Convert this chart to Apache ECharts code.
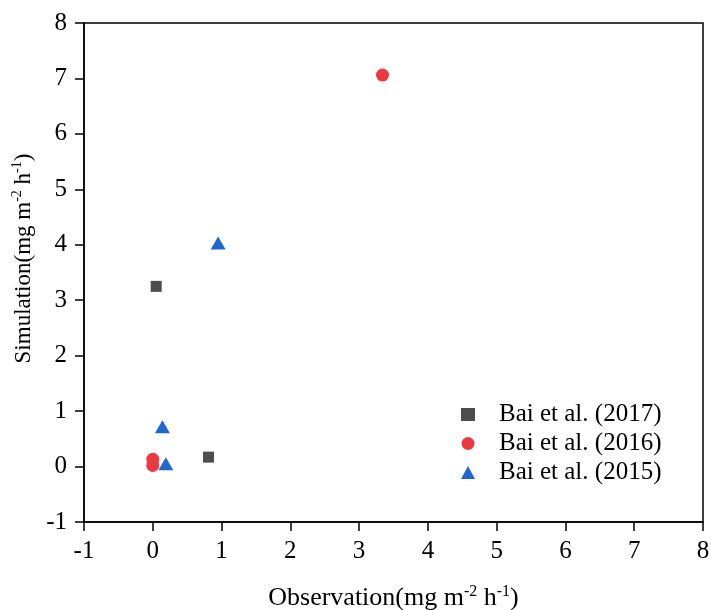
<!DOCTYPE html>
<html>
<head>
<meta charset="utf-8">
<script src="https://cdn.jsdelivr.net/npm/echarts@6/dist/echarts.min.js"></script>
<style>html,body{margin:0;padding:0;background:#fff}#c{width:711px;height:610px}</style>
</head>
<body>
<div id="c"></div>
<script>
const seriesNames = ['Bai et al. (2017)', 'Bai et al. (2016)', 'Bai et al. (2015)'];
const bai2017 = [[0.05, 3.25], [0.81, 0.17]];
const bai2016 = [[3.34, 7.06], [0.0, 0.13], [0.0, 0.02]];
const bai2015 = [[0.95, 4.03], [0.14, 0.72], [0.19, 0.05]];
const xTicks = [-1, 0, 1, 2, 3, 4, 5, 6, 7, 8];
const yTicks = [-1, 0, 1, 2, 3, 4, 5, 6, 7, 8];

const font = '"Liberation Serif", "Times New Roman", serif';
const chart = echarts.init(document.getElementById('c'));
const axisCommon = {
  type: 'value', min: -1, max: 8, interval: 1,
  axisLine: { show: true, onZero: false, lineStyle: { color: '#000', width: 1.5 } },
  axisTick: { show: true, inside: false, length: 9, lineStyle: { color: '#000', width: 1.5 } },
  axisLabel: { color: '#000', fontFamily: font, fontSize: 25 },
  splitLine: { show: false }
};
function rich(size) {
  return {
    n: { fontFamily: font, fontSize: size, color: '#000' },
    s: { fontFamily: font, fontSize: Math.round(size * 0.62), color: '#000', verticalAlign: 'top', padding: [0, 0, 12, 0] }
  };
}
chart.setOption({
  animation: false,
  grid: { left: 84, right: 8, top: 23, bottom: 88, containLabel: false, outerBoundsMode: 'none', show: true, borderColor: '#000', borderWidth: 1.5 },
  xAxis: Object.assign({}, axisCommon, {
    axisLabel: Object.assign({}, axisCommon.axisLabel, { margin: 17, formatter: v => xTicks.includes(v) ? String(v) : '' }),
    name: '{n|Observation(mg m}{s|-2}{n| h}{s|-1}{n|)}',
    nameLocation: 'middle', nameGap: 62,
    nameTextStyle: { rich: rich(26) }
  }),
  yAxis: Object.assign({}, axisCommon, {
    axisLabel: Object.assign({}, axisCommon.axisLabel, { margin: 17, formatter: v => yTicks.includes(v) ? String(v) : '' }),
    name: '{n|Simulation(mg m}{s|-2}{n| h}{s|-1}{n|)}',
    nameLocation: 'middle', nameGap: 42, nameRotate: 90,
    nameTextStyle: { rich: rich(23), padding: [0, 0, 0, 28] }
  }),
  legend: {
    orient: 'vertical', left: 456, top: 397, itemWidth: 14, itemHeight: 13, itemGap: 4,
    textStyle: { fontFamily: font, fontSize: 25, color: '#000', padding: [0, 0, 0, 19] },
    data: seriesNames
  },
  series: [
    { name: seriesNames[0], type: 'scatter', symbol: 'rect', symbolSize: 11, itemStyle: { color: '#4d4d4d', opacity: 1 }, data: bai2017 },
    { name: seriesNames[1], type: 'scatter', symbol: 'circle', symbolSize: 13, itemStyle: { color: '#ea3a40', opacity: 1 }, data: bai2016 },
    { name: seriesNames[2], type: 'scatter', symbol: 'triangle', symbolSize: [15, 13], itemStyle: { color: '#1f66d1', opacity: 1 }, data: bai2015 }
  ]
});
</script>
</body>
</html>
